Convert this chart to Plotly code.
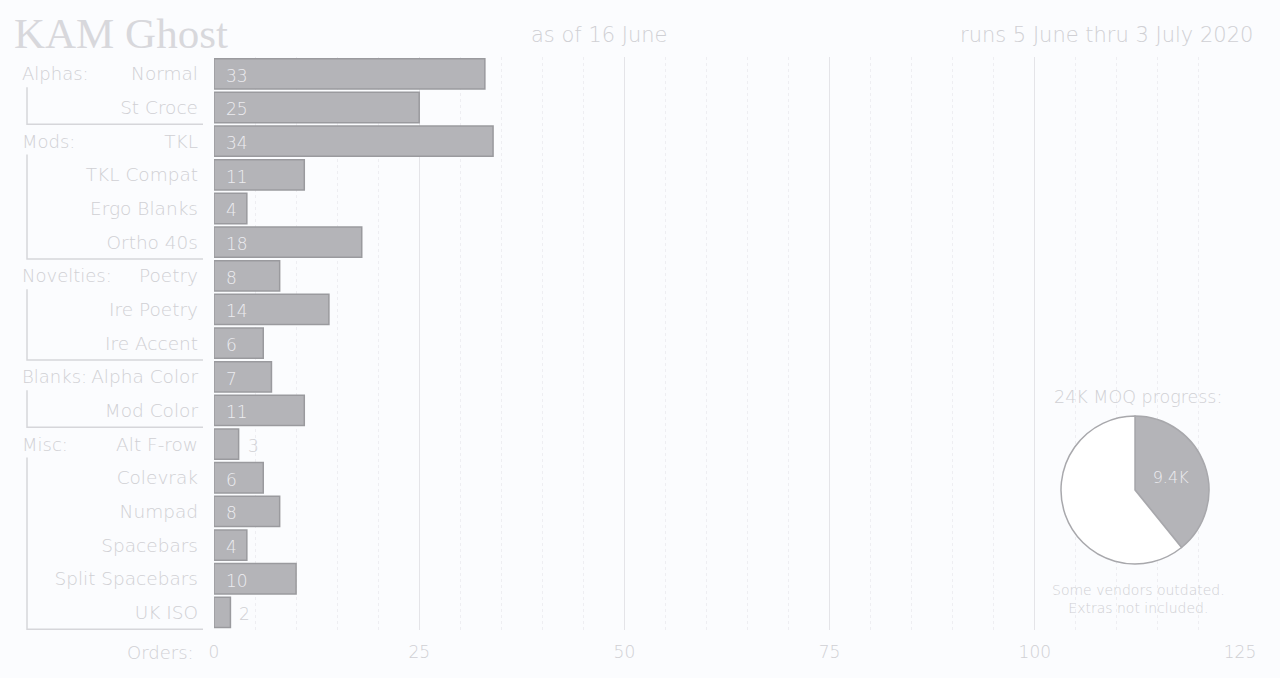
import plotly.graph_objects as go

# ---- data ----
categories = ["Normal", "St Croce", "TKL", "TKL Compat", "Ergo Blanks", "Ortho 40s",
              "Poetry", "Ire Poetry", "Ire Accent", "Alpha Color", "Mod Color",
              "Alt F-row", "Colevrak", "Numpad", "Spacebars", "Split Spacebars", "UK ISO"]
orders = [33, 25, 34, 11, 4, 18, 8, 14, 6, 7, 11, 3, 6, 8, 4, 10, 2]
group_names = ["Alphas:", "Mods:", "Novelties:", "Blanks:", "Misc:"]
group_sizes = [2, 4, 3, 2, 6]
moq_labels = ["9.4K", ""]
moq_values = [9.4, 14.6]
x_ticks = [0, 25, 50, 75, 100, 125]

# ---- styles ----
BG = "#fbfcfe"
TXT = "#d0d0d4"
BAR = "#b4b4b8"
BAR_EDGE = "#9a9a9e"
FONT = "DejaVu Sans"
WT = 200
W, H = 1280, 678
ML, MR, MT, MB = 214, 40, 57, 48
PW, PH = W - ML - MR, H - MT - MB


def px(xp):
    return (xp - ML) / PW


def py(yp):
    return (H - MB - yp) / PH


def f(size, color=TXT):
    return dict(size=size, color=color, family=FONT, weight=WT)


fig = go.Figure()

fig.add_trace(go.Bar(
    x=orders, y=categories, orientation="h",
    marker=dict(color=BAR, line=dict(color=BAR_EDGE, width=1.5)),
    hoverinfo="skip",
    showlegend=False,
))

fig.add_trace(go.Pie(
    values=moq_values, text=moq_labels, textinfo="text",
    sort=False, direction="clockwise", rotation=0,
    marker=dict(colors=[BAR, "#ffffff"], line=dict(color="#a8a8ac", width=1.5)),
    textposition="inside",
    insidetextfont=f(16, "#ececf0"),
    domain=dict(x=[px(1135 - 74), px(1135 + 74)], y=[py(490 + 74), py(490 - 74)]),
    hoverinfo="skip", showlegend=False,
))

shapes = []
annotations = []

# value labels: inside (near bar start) for wider bars, just outside otherwise
for cat, v in zip(categories, orders):
    inside = v >= 4
    annotations.append(dict(
        text=str(v), xref="x", yref="y", x=0 if inside else v, y=cat,
        xanchor="left", yanchor="middle", showarrow=False,
        xshift=10 if inside else 7, yshift=-2,
        font=f(17, "#ececf0" if inside else TXT)))

start = 0
for name, size in zip(group_names, group_sizes):
    first, last = start, start + size - 1
    annotations.append(dict(text=name, xref="paper", yref="y", x=px(20), y=first,
                            xanchor="left", yanchor="middle", showarrow=False,
                            font=f(18)))
    shapes.append(dict(type="path", xref="paper", yref="y",
                       path=f"M {px(27)},{first + 0.4} L {px(27)},{last + 0.5} L {px(203)},{last + 0.5}",
                       line=dict(color="#d6d6da", width=1.5)))
    start += size

annotations += [
    dict(text="KAM Ghost", xref="paper", yref="paper", x=px(12), y=py(34),
         xanchor="left", yanchor="middle", showarrow=False,
         font=dict(size=43, color="#d8d8dc", family="Liberation Serif")),
    dict(text="as of 16 June", xref="paper", yref="paper", x=px(529), y=py(35),
         xanchor="left", yanchor="middle", showarrow=False, font=f(21)),
    dict(text="runs 5 June thru 3 July 2020", xref="paper", yref="paper", x=px(1255), y=py(35),
         xanchor="right", yanchor="middle", showarrow=False, font=f(21)),
    dict(text="24K MOQ progress:", xref="paper", yref="paper", x=px(1138), y=py(397),
         xanchor="center", yanchor="middle", showarrow=False, font=f(17.5)),
    dict(text="Some vendors outdated.<br>Extras not included.", xref="paper", yref="paper",
         x=px(1138), y=py(599), xanchor="center", yanchor="middle", showarrow=False,
         font=f(14)),
    dict(text="Orders:", xref="paper", yref="paper", x=px(196), y=py(652),
         xanchor="right", yanchor="middle", showarrow=False, font=f(18)),
]

fig.update_layout(
    width=W, height=H,
    margin=dict(l=ML, r=MR, t=MT, b=MB),
    paper_bgcolor=BG, plot_bgcolor=BG,
    font=f(18),
    bargap=0.1,
    shapes=shapes, annotations=annotations,
    xaxis=dict(range=[0, 125], tickvals=x_ticks, showgrid=True, gridcolor="#e4e4e8", gridwidth=1,
               zeroline=False, showline=False, ticks="", ticklabelstandoff=10,
               tickfont=f(17),
               minor=dict(dtick=5, showgrid=True, gridcolor="#eeeef2", griddash="dot", gridwidth=1)),
    yaxis=dict(categoryorder="array", categoryarray=categories, autorange="reversed",
               showgrid=False, zeroline=False, showline=False, ticks="",
               ticklabelstandoff=15, tickfont=f(18.5)),
)

fig.write_html("out.html", config={"displayModeBar": False},
               post_script="document.body.style.margin='0';document.body.style.background='%s';" % BG)
